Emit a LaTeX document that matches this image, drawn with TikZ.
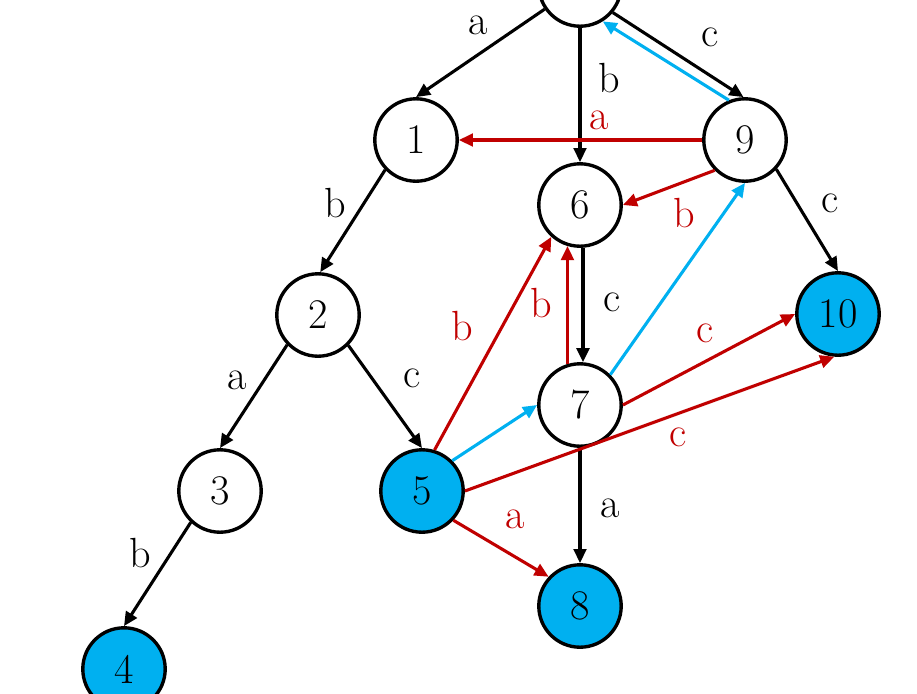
\documentclass[tikz,border=0pt]{standalone}
\usetikzlibrary{arrows.meta}
\definecolor{nblue}{RGB}{0,176,240}
\definecolor{nred}{RGB}{192,0,0}
\begin{document}
\begin{tikzpicture}[x=0.025cm,y=-0.025cm,
  st/.style={circle,draw=black,line width=2.4pt,minimum size=2.06cm,inner sep=0pt,font=\fontsize{30}{32}\selectfont,fill=white},
  acc/.style={st,fill=nblue},
  arr/.style={line width=2.2pt,-{Triangle[length=10pt,width=9pt]}},
  blk/.style={arr,draw=black},
  rd/.style={arr,draw=nred},
  bl/.style={arr,draw=nblue},
  lb/.style={font=\fontsize{30}{32}\selectfont,inner sep=0pt},
  rlb/.style={lb,text=nred}]
\useasboundingbox (0,0) rectangle (917,693);
\node[st] (r) at (580,-15) {};
\node[st] (n1) at (416,140) {1};
\node[st] (n9) at (745,140) {9};
\node[st] (n6) at (580,205) {6};
\node[st] (n2) at (318,315) {2};
\node[acc] (n10) at (838,314) {10};
\node[st] (n7) at (580,405) {7};
\node[st] (n3) at (220,491) {3};
\node[acc] (n5) at (422,491) {5};
\node[acc] (n8) at (580,606) {8};
\node[acc] (n4) at (124,669) {4};
% black tree edges
\draw[blk] (r) -- (n1.north);
\draw[blk] (r.south) -- (n6.north);
\draw[blk] (r.-40) -- (n9.92);
\draw[blk] (n1.224) -- (n2.87);
\draw[blk] (n2.224) -- (n3.north);
\draw[blk] (n2.-45) -- (n5.north);
\draw[blk] (n3.227) -- (n4.north);
\draw[blk] (n6.-86) -- (n7.86);
\draw[blk] (n9.-43) -- (n10.north);
\draw[blk] (n7.south) -- (n8.north);
% red edges
\draw[rd] (n9.west) -- (n1.east);
\draw[rd] (n9.225) -- (n6.east);
\draw[rd] (n5.73) -- (n6.228);
\draw[rd] (n7.107) -- (n6.-107);
\draw[rd] (n7.east) -- (n10.west);
\draw[rd] (n5.east) -- (n10.-95);
\draw[rd] (n5.-43) -- (n8.137);
% blue edges
\draw[bl] (n9.112) -- (r.-58);
\draw[bl] (n5.45) -- (n7.west);
\draw[bl] (n7.45) -- (n9.south);
% labels
\node[lb] (la1) at (478,25) {a};
\node[lb] (lb6) at (609,78) {b};
\node[lb] (lc9) at (710,37) {c};
\node[rlb] (la91) at (599,120) {a};
\node[rlb] (lb96) at (684,213) {b};
\node[lb] (lb12) at (335,203) {b};
\node[lb] (lc910) at (830,203) {c};
\node[rlb] (lb56) at (462,326) {b};
\node[rlb] (lb76) at (541,303) {b};
\node[lb] (lc67) at (612,302) {c};
\node[rlb] (lc710) at (705,333) {c};
\node[rlb] (lc510) at (678,437) {c};
\node[lb] (la23) at (237,380) {a};
\node[lb] (lc25) at (412,378) {c};
\node[rlb] (la58) at (515,519) {a};
\node[lb] (la78) at (610,508) {a};
\node[lb] (lb34) at (140,553) {b};
\end{tikzpicture}
\end{document}
